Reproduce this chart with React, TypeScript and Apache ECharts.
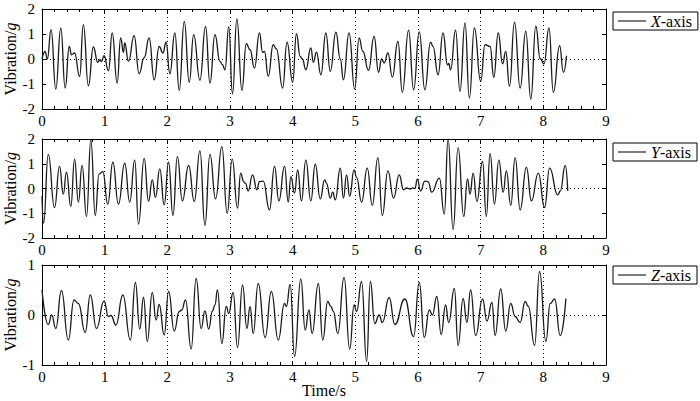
import React, { useEffect, useRef } from "react";
import * as echarts from "echarts";

// X-axis vibration: times (s) and values (g) of the traced turning points
const xTime = [0,0.05,0.085,0.145,0.22,0.30,0.37,0.435,0.47,0.52,0.60,0.66,0.74,0.82,0.89,0.925,0.95,0.99,1.06,1.12,1.20,1.255,1.30,1.32,1.38,1.47,1.55,1.63,1.71,1.79,1.87,1.93,1.98,2.04,2.12,2.19,2.27,2.35,2.42,2.52,2.61,2.68,2.76,2.84,2.88,2.92,2.98,3.04,3.11,3.19,3.26,3.32,3.39,3.47,3.52,3.55,3.61,3.69,3.74,3.84,3.91,4.00,4.06,4.12,4.155,4.21,4.29,4.33,4.38,4.45,4.53,4.60,4.69,4.76,4.81,4.90,4.99,5.06,5.12,5.21,5.30,5.37,5.42,5.46,5.52,5.59,5.68,5.75,5.85,5.93,6.02,6.11,6.20,6.24,6.32,6.40,6.47,6.49,6.52,6.60,6.67,6.75,6.82,6.90,7.00,7.07,7.15,7.21,7.28,7.35,7.40,7.46,7.54,7.63,7.72,7.80,7.88,7.95,8.01,8.09,8.16,8.26,8.32,8.37];
const xVal = [0,0.3,0,1.17,-1.2,1.24,-1.16,0.5,0.17,0.24,-0.7,1.37,-1.07,0.48,-0.13,-0.03,-0.1,0.13,-0.47,1.04,-0.96,0.84,0.27,0.64,-0.09,0.93,-0.59,0.05,0.84,-0.83,0.5,0.24,0.67,-0.59,1.04,-1.25,1.5,-0.93,0.97,-0.85,1.3,-0.96,0.97,-0.1,-0.23,-0.43,1.28,-1.39,1.6,-1.25,0.61,0.37,-0.36,1.04,0.27,0.3,-0.69,0.57,0.4,-1.16,0.67,-0.93,1.01,0.1,0,-0.43,0.44,-0.13,0.27,-0.63,1.04,-0.49,1.07,0,-0.83,1.04,-1.2,0.84,0.3,-0.45,0.9,-0.53,0,-0.16,0.24,-0.72,0.7,-1.33,1.15,-1.23,1.08,-1.23,0.67,0.5,-0.63,1.04,-0.23,-0.18,-0.43,1.15,-1.29,1.44,-1.56,1.24,-0.89,0.57,0.5,-0.73,1.04,-0.19,0.3,-1.09,1.47,-1.16,1.11,-1.6,1.31,0.02,-0.2,1.24,-1.33,0.53,-0.53,0.13];

// Y-axis vibration
const yTime = [0,0.025,0.10,0.20,0.28,0.34,0.39,0.46,0.52,0.58,0.64,0.71,0.78,0.85,0.91,0.97,1.05,1.13,1.22,1.32,1.40,1.48,1.54,1.63,1.70,1.76,1.81,1.88,1.95,2.02,2.09,2.16,2.24,2.34,2.43,2.52,2.60,2.68,2.77,2.87,2.955,3.035,3.12,3.17,3.22,3.25,3.29,3.36,3.43,3.47,3.53,3.63,3.71,3.78,3.87,3.93,3.97,4.03,4.08,4.14,4.21,4.29,4.36,4.44,4.51,4.54,4.60,4.64,4.68,4.76,4.81,4.86,4.91,4.98,5.02,5.10,5.19,5.27,5.36,5.43,5.52,5.61,5.70,5.77,5.82,5.87,5.92,5.95,5.99,6.04,6.11,6.16,6.22,6.34,6.42,6.48,6.56,6.64,6.73,6.79,6.83,6.88,6.94,7.03,7.09,7.15,7.22,7.29,7.36,7.41,7.48,7.55,7.63,7.73,7.81,7.92,8.02,8.10,8.23,8.27,8.35,8.39];
const yVal = [-0.3,-1.4,1.38,-0.77,0.89,-0.23,0.66,-0.72,1.19,-0.55,0.93,-1.13,1.95,-1.09,0.58,0.68,-0.63,1.06,-0.63,1.02,-0.55,1.15,-1.44,1.22,-0.52,0.35,-0.36,0.79,-0.66,1.06,-1.09,1.29,-0.5,0.93,-0.52,1.52,-1.49,1.38,-0.42,1.69,-1.0,1.19,-0.79,0.62,0.27,0.2,-0.1,0.55,-0.05,0.28,0.3,-0.86,0.89,-0.5,0.89,-0.55,0.48,-0.19,0.75,-0.5,1.15,-0.5,0.98,-0.42,0.35,0.22,-0.39,-0.15,-0.46,0.82,-0.39,0.55,-0.32,0.75,0.45,-0.55,0.82,-0.68,1.25,-1.09,0.71,-0.39,0.55,-0.05,0.02,-0.02,0.02,0,0.38,-0.1,0.3,0.28,-0.15,0.42,-1.03,2.0,-1.66,1.65,-1.13,0.39,-0.23,0.62,-0.52,1.09,-1.13,1.42,-0.63,1.15,-0.15,0.71,-0.68,1.25,-0.86,0.85,-0.5,0.62,-0.77,0.82,-0.26,-0.1,0.93,-0.1];

// Z-axis vibration
const zTime = [0,0.10,0.155,0.22,0.31,0.42,0.51,0.58,0.69,0.77,0.87,0.99,1.06,1.10,1.18,1.29,1.41,1.49,1.56,1.62,1.68,1.76,1.82,1.87,1.95,2.02,2.11,2.19,2.23,2.29,2.38,2.46,2.54,2.60,2.66,2.72,2.76,2.80,2.87,2.94,2.98,3.05,3.12,3.20,3.27,3.32,3.37,3.45,3.56,3.66,3.77,3.87,3.90,3.96,4.03,4.13,4.20,4.26,4.31,4.41,4.48,4.56,4.61,4.65,4.72,4.82,4.91,4.98,5.02,5.10,5.18,5.24,5.31,5.38,5.43,5.54,5.63,5.79,5.93,6.02,6.10,6.18,6.23,6.30,6.37,6.44,6.49,6.58,6.64,6.72,6.78,6.84,6.92,7.03,7.10,7.18,7.23,7.32,7.40,7.48,7.55,7.63,7.71,7.76,7.86,7.94,8.04,8.11,8.18,8.27,8.36];
const zVal = [0.5,-0.19,0,-0.27,0.49,-0.5,0.3,0.23,-0.35,0.4,-0.27,0.28,-0.03,-0.01,-0.2,0.4,-0.5,0.65,-0.28,0.35,-0.53,0.45,-0.1,0.21,-0.4,0.47,-0.32,0.07,0.1,0.3,-0.68,0.73,-0.27,0.08,-0.28,0.08,0.2,0.5,-0.57,0.17,0.03,0.45,-0.65,0.6,-0.27,0.17,-0.37,0.63,-0.45,0.47,-0.5,0.23,0.17,0.61,-0.83,0.72,-0.3,0.1,-0.37,0.63,-0.5,0.27,0.17,0.07,-0.37,0.75,-0.68,0.2,0.07,0.67,-0.93,0.67,-0.17,0,-0.15,0.35,-0.19,0.32,-0.43,0.65,-0.45,0.1,0,0.37,-0.39,0.2,-0.15,0.53,-0.61,0.33,-0.15,0.5,-0.41,0.32,-0.12,0.25,-0.41,0.52,-0.32,0.23,-0.03,-0.15,0.27,0.17,-0.61,0.87,-0.53,0.23,0.32,-0.41,0.33];

const seriesNames = ["X-axis", "Y-axis", "Z-axis"];
const legendLetters = ["X", "Y", "Z"];
const yRanges = [[-2, 2], [-2, 2], [-1, 1]];
const xTicks = [0, 9, 1];

const FONT = "Liberation Serif";

export default function App() {
  const ref = useRef<HTMLDivElement>(null);
  useEffect(() => {
    const chart = echarts.init(ref.current!, null, { renderer: "svg" });
    const base = { left: 42, width: 564, containLabel: false, outerBoundsMode: "none" };
    const grids = [
      { ...base, top: 9, height: 100 },
      { ...base, top: 139, height: 99 },
      { ...base, top: 265, height: 100 },
    ];
    const legendTops = [12, 143, 266];
    const datas = [
      xTime.map((t, i) => [t, xVal[i]]),
      yTime.map((t, i) => [t, yVal[i]]),
      zTime.map((t, i) => [t, zVal[i]]),
    ];
    const axisLine = { show: true, onZero: false, lineStyle: { color: "#000", width: 1 } };
    const tickStyle = { fontFamily: FONT, fontSize: 15, color: "#000" };
    const nameStyle = { fontFamily: FONT, fontSize: 16, color: "#000" };
    const xAxes: any[] = [];
    const yAxes: any[] = [];
    for (let i = 0; i < 3; i++) {
      xAxes.push({
        type: "value", gridIndex: i, min: xTicks[0], max: xTicks[1], interval: xTicks[2],
        position: "bottom", axisLine,
        axisTick: { show: true, inside: true, length: 4, lineStyle: { color: "#000" } },
        minorTick: { show: true, splitNumber: 5, length: 3, lineStyle: { color: "#000" } },
        axisLabel: { ...tickStyle, margin: 4 },
        splitLine: { show: true, lineStyle: { color: "#000", type: [1, 3], width: 1 } },
        name: i === 2 ? "Time/s" : "",
        nameLocation: "middle", nameGap: 17, nameMoveOverlap: false,
        nameTextStyle: nameStyle,
      });
      yAxes.push({
        type: "value", gridIndex: i, min: yRanges[i][0], max: yRanges[i][1], interval: 1,
        position: "left", axisLine,
        axisTick: { show: true, inside: true, length: 4, lineStyle: { color: "#000" } },
        axisLabel: { ...tickStyle, margin: 7 },
        splitLine: { show: false },
        name: "Vibration/{i|g}",
        nameLocation: "middle", nameGap: 24, nameMoveOverlap: false,
        nameTextStyle: { ...nameStyle, rich: { i: { ...nameStyle, fontStyle: "italic" } } },
      });
    }
    for (let i = 0; i < 3; i++) {
      xAxes.push({
        type: "value", gridIndex: i, min: xTicks[0], max: xTicks[1], interval: xTicks[2],
        position: "top", axisLine,
        axisTick: { show: true, inside: true, length: 4, lineStyle: { color: "#000" } },
        minorTick: { show: true, splitNumber: 5, length: 3, lineStyle: { color: "#000" } },
        axisLabel: { show: false }, splitLine: { show: false },
      });
      yAxes.push({
        type: "value", gridIndex: i, min: yRanges[i][0], max: yRanges[i][1], interval: 1,
        position: "right", axisLine,
        axisTick: { show: true, inside: true, length: 4, lineStyle: { color: "#000" } },
        axisLabel: { show: false }, splitLine: { show: false },
      });
    }
    const series = datas.map((d, i) => ({
      type: "line", name: seriesNames[i], xAxisIndex: i, yAxisIndex: i,
      data: d, symbol: "none", smooth: 0.5, smoothMonotone: "x",
      lineStyle: { color: "#1a1a1a", width: 1.3 }, itemStyle: { color: "#1a1a1a" },
      markLine: {
        silent: true, symbol: "none", label: { show: false },
        lineStyle: { color: "#000", type: [1, 3], width: 1 },
        data: [{ yAxis: 0 }],
      },
    }));
    const legends = seriesNames.map((n, i) => ({
      data: [n], left: 613, top: legendTops[i], orient: "horizontal",
      borderColor: "#000", borderWidth: 1, padding: [1, 6, 1, 5],
      icon: "rect", itemWidth: 28, itemHeight: 1.3, selectedMode: false,
      itemStyle: { color: "#333" },
      formatter: () => `{i|${legendLetters[i]}}{n|-axis}`,
      textStyle: {
        ...nameStyle,
        rich: { i: { ...nameStyle, fontStyle: "italic" }, n: { ...nameStyle } },
      },
    }));
    chart.setOption({
      animation: false,
      backgroundColor: "#fff",
      grid: grids,
      xAxis: xAxes,
      yAxis: yAxes,
      legend: legends,
      series,
    });
    return () => chart.dispose();
  }, []);
  return (
    <div
      ref={ref}
      style={{ position: "absolute", left: 0, top: 0, width: 700, height: 401, background: "#fff" }}
    />
  );
}
